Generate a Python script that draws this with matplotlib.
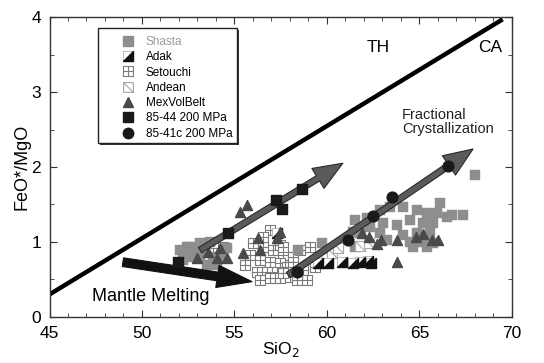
import matplotlib
matplotlib.use("Agg")
import matplotlib.pyplot as plt
from matplotlib.path import Path
from matplotlib.lines import Line2D
from matplotlib.patches import Rectangle
from matplotlib.legend_handler import HandlerTuple
from matplotlib.ticker import MultipleLocator

plt.rcParams['font.family'] = ['Liberation Sans', 'DejaVu Sans']

# ---- data (SiO2 wt%, FeO*/MgO) ----
shasta_x = [52.05, 52.43, 52.59, 53.14, 53.68, 52.59, 53.14, 53.84, 54.38, 53.51,
            54.05, 52.22, 52.86, 54.59,
            61.51, 62.16, 62.86, 63.41, 64.11, 64.86, 65.41, 65.95, 66.11, 66.49,
            66.76, 67.35, 68.00, 62.32, 63.03, 63.78, 64.49, 65.19, 65.73, 61.78,
            62.86, 64.11, 64.86, 65.57, 63.24, 64.49, 65.19, 65.73, 59.73, 58.43,
            61.51, 61.41, 64.65, 65.41]
shasta_y = [0.89, 0.93, 0.93, 0.99, 1.00, 0.80, 0.80, 0.80, 0.79, 0.69,
            0.69, 0.76, 0.87, 0.92,
            1.29, 1.32, 1.43, 1.47, 1.47, 1.43, 1.39, 1.39, 1.52, 1.33,
            1.36, 1.36, 1.89, 1.20, 1.25, 1.23, 1.29, 1.25, 1.25, 1.12,
            1.12, 1.09, 1.12, 1.12, 1.03, 1.00, 1.00, 0.99, 0.99, 0.89,
            0.93, 1.13, 0.93, 0.93]

adak_x = [59.5, 60.05, 60.8, 61.4, 61.8, 62.2, 62.4, 57.3]
adak_y = [0.72, 0.72, 0.73, 0.72, 0.73, 0.74, 0.72, 1.12]

setouchi_x = [56.00, 56.54, 57.08, 57.46, 57.62, 56.38, 56.92, 57.46, 57.84, 56.22,
              56.76, 57.30, 56.38, 56.92, 57.46, 54.38, 53.84, 56.92, 56.54, 58.16,
              58.54, 58.00, 58.70, 58.00, 58.92, 59.35, 59.08, 57.62, 58.16, 57.62,
              55.84, 55.57, 58.38]
setouchi_y = [0.99, 0.93, 0.89, 0.96, 0.83, 0.76, 0.73, 0.72, 0.67, 0.60,
              0.60, 0.60, 0.49, 0.52, 0.52, 0.93, 0.85, 1.16, 1.07, 0.80,
              0.89, 0.67, 0.63, 0.53, 0.49, 0.67, 0.93, 0.93, 0.67, 0.59,
              0.83, 0.69, 0.49]

andean_x = [59.8, 60.3, 60.6, 61.8, 62.3]
andean_y = [0.78, 0.85, 0.92, 0.95, 0.98]

mvb_x = [52.97, 53.57, 54.20, 54.05, 54.60, 55.68, 55.30, 56.27, 55.46, 56.38,
         57.46, 57.30, 61.90, 62.30, 62.90, 62.70, 63.80, 64.80, 65.20, 65.70,
         66.00, 63.80]
mvb_y = [0.79, 0.87, 0.92, 0.79, 0.79, 1.49, 1.40, 1.05, 0.85, 0.89,
         1.13, 1.05, 1.12, 1.07, 1.03, 0.97, 1.03, 1.07, 1.10, 1.03,
         1.03, 0.73]

run4444_x = [51.95, 54.65, 57.24, 57.57, 58.65]
run4444_y = [0.73, 1.12, 1.56, 1.44, 1.71]

run4141_x = [58.38, 61.14, 62.49, 63.51, 66.54]
run4141_y = [0.60, 1.03, 1.35, 1.60, 2.01]

# TH / CA dividing line
thca_x = [45.0, 69.5]
thca_y = [0.30, 3.97]

# trend arrows: (start, tip)
fc_upper = ((53.14, 0.89), (60.86, 2.05))
fc_lower = ((57.90, 0.56), (67.90, 2.24))
melting = ((48.97, 0.73), (55.95, 0.47))

legend_labels = ["Shasta", "Adak", "Setouchi", "Andean", "MexVolBelt",
                 "85-44 200 MPa", "85-41c 200 MPa"]

# ---- custom marker shapes ----
M, L, C = Path.MOVETO, Path.LINETO, Path.CLOSEPOLY
sq = [(-1, -1), (1, -1), (1, 1), (-1, 1), (-1, -1)]
sq_codes = [M, L, L, L, C]
grid_marker = Path(sq + [(0, -1), (0, 1), (-1, 0), (1, 0)],
                   sq_codes + [M, L, M, L])
diag_marker = Path(sq + [(-1, 1), (1, -1)], sq_codes + [M, L])
half_marker = Path([(-1, -1), (1, -1), (1, 1), (-1, -1)], [M, L, L, C])

fig = plt.figure(figsize=(5.44, 3.63), dpi=100)
ax = fig.add_axes([0.091, 0.127, 0.850, 0.826])

ax.plot(thca_x, thca_y, color='black', lw=3.2, solid_capstyle='butt', zorder=2)

ms = 52
ax.scatter(setouchi_x, setouchi_y, marker=grid_marker, s=ms, facecolor='white',
           edgecolor='#7a7a7a', linewidths=0.8, zorder=3)
ax.scatter(shasta_x, shasta_y, marker='s', s=ms, color='#8e8e8e',
           edgecolor='#8e8e8e', linewidths=0.3, zorder=4)
ax.scatter(andean_x, andean_y, marker=diag_marker, s=ms, facecolor='white',
           edgecolor='#a8a8a8', linewidths=0.8, zorder=4)
ax.scatter(adak_x, adak_y, marker='s', s=ms, facecolor='white',
           edgecolor='#b0b0b0', linewidths=0.6, zorder=5)
ax.scatter(adak_x, adak_y, marker=half_marker, s=ms, color='#111111', zorder=5)
ax.scatter(mvb_x, mvb_y, marker='^', s=ms, color='#4a4a4a', zorder=6)


def trend_arrow(seg, fc, ec, style):
    (x0, y0), (x1, y1) = seg
    ax.annotate('', xy=(x1, y1), xytext=(x0, y0),
                arrowprops=dict(arrowstyle=style, fc=fc, ec=ec, lw=0.8,
                                mutation_scale=14, shrinkA=0, shrinkB=0),
                zorder=7)


trend_arrow(fc_upper, '#5a5a5a', '#2a2a2a',
            'simple,head_length=1.5,head_width=1.2,tail_width=0.32')
trend_arrow(fc_lower, '#5a5a5a', '#2a2a2a',
            'simple,head_length=1.5,head_width=1.2,tail_width=0.32')
trend_arrow(melting, '#111111', '#111111',
            'simple,head_length=1.8,head_width=1.15,tail_width=0.45')

ax.scatter(run4444_x, run4444_y, marker='s', s=60, color='#1a1a1a', zorder=8)
ax.scatter(run4141_x, run4141_y, marker='o', s=60, color='#1a1a1a', zorder=8)

ax.text(62.76, 3.59, 'TH', fontsize=12.5, ha='center', va='center')
ax.text(68.81, 3.59, 'CA', fontsize=12.5, ha='center', va='center')
ax.text(64.05, 2.6, 'Fractional\nCrystallization', fontsize=10.5,
        ha='left', va='center', linespacing=1.05, color='#222222')
ax.text(47.3, 0.27, 'Mantle Melting', fontsize=13, ha='left', va='center')

ax.set_xlim(45, 70)
ax.set_ylim(0, 4)
ax.xaxis.set_major_locator(MultipleLocator(5))
ax.xaxis.set_minor_locator(MultipleLocator(1))
ax.yaxis.set_major_locator(MultipleLocator(1))
ax.yaxis.set_minor_locator(MultipleLocator(0.5))
ax.tick_params(which='both', direction='in', top=True, right=True,
               labelsize=12.5, color='#333333')
ax.tick_params(which='major', length=5)
ax.tick_params(which='minor', length=3)
ax.tick_params(axis='x', which='major', pad=6.5)
ax.tick_params(axis='y', which='major', pad=6)
for sp in ax.spines.values():
    sp.set_linewidth(1.0)
    sp.set_color('#333333')

ax.set_xlabel('SiO$_2$', fontsize=12.5, labelpad=-1)
ax.set_ylabel('FeO*/MgO', fontsize=13, labelpad=1)

# legend box with a small drop shadow
box_x0, box_y0, box_w, box_h = 0.1049, 0.580, 0.3005, 0.3833
px_x, px_y = 2.0 / 462.5, 2.0 / 300.0
ax.add_patch(Rectangle((box_x0 + px_x, box_y0 - px_y), box_w, box_h,
                       transform=ax.transAxes, facecolor='#333333',
                       edgecolor='none', zorder=14))
ax.add_patch(Rectangle((box_x0, box_y0), box_w, box_h, transform=ax.transAxes,
                       facecolor='white', edgecolor='#222222', lw=1.0, zorder=15))

h_shasta = Line2D([], [], ls='none', marker='s', ms=7, color='#8e8e8e')
h_adak = (Line2D([], [], ls='none', marker='s', ms=7, mfc='white', mec='#b0b0b0', mew=0.6),
          Line2D([], [], ls='none', marker=half_marker, ms=7, color='#111111'))
h_set = Line2D([], [], ls='none', marker=grid_marker, ms=7, mfc='white',
               mec='#7a7a7a', mew=0.8)
h_and = Line2D([], [], ls='none', marker=diag_marker, ms=7, mfc='white',
               mec='#a8a8a8', mew=0.8)
h_mvb = Line2D([], [], ls='none', marker='^', ms=7, color='#4a4a4a')
h_44 = Line2D([], [], ls='none', marker='s', ms=7.5, color='#1a1a1a')
h_41 = Line2D([], [], ls='none', marker='o', ms=7.5, color='#1a1a1a')

leg = ax.legend([h_shasta, h_adak, h_set, h_and, h_mvb, h_44, h_41], legend_labels,
                handler_map={tuple: HandlerTuple(ndivide=1)},
                loc='upper left', bbox_to_anchor=(0.1416, 0.937), borderaxespad=0,
                fontsize=8.5, frameon=False, labelspacing=0.28, handlelength=2.2,
                handletextpad=0.4, borderpad=0)
leg.set_zorder(20)
leg.get_texts()[0].set_color('#9a9a9a')

fig.savefig('out.png', dpi=100)
